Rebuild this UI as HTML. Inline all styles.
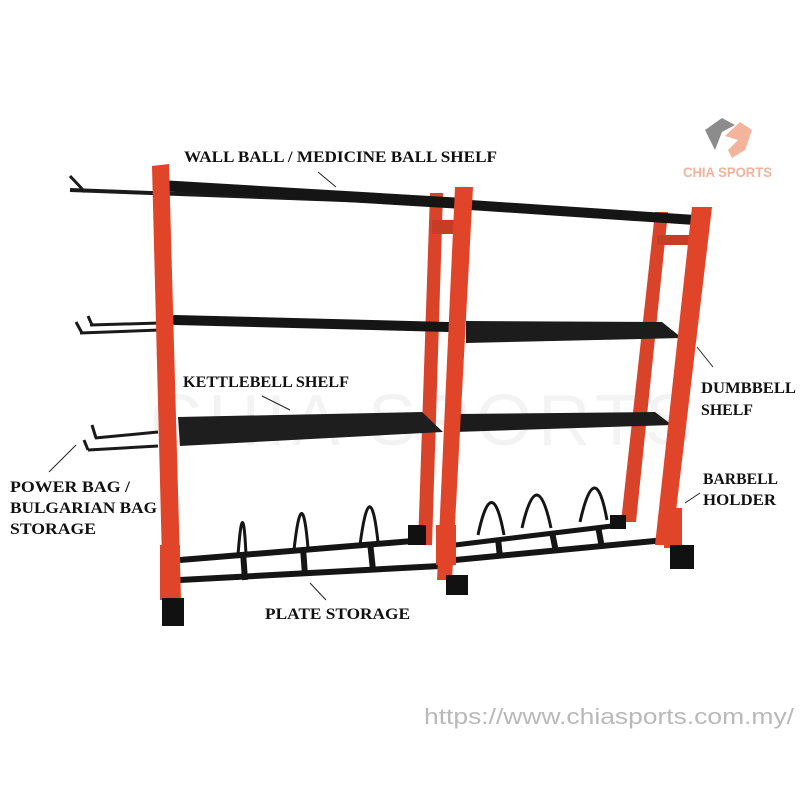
<!DOCTYPE html>
<html><head><meta charset="utf-8"><style>
html,body{margin:0;padding:0;background:#fff}
svg{display:block}
.l{font-family:"Liberation Serif",serif;font-size:16px;font-weight:bold;fill:#111}
</style></head><body>
<svg width="800" height="800" viewBox="0 0 800 800" xmlns="http://www.w3.org/2000/svg">
<rect width="800" height="800" fill="#fff"/>
<text x="150" y="445" font-family="Liberation Sans,sans-serif" font-size="72" fill="#000" opacity="0.045" letter-spacing="6">CHIA SPORTS</text>
<path d="M705 130 L722 118 L735 125 L722 132 L715 150 Z" fill="#8c8c8c"/>
<path d="M725 136 L740 122 L752 130 L745 150 L732 158 L728 150 L738 140 Z" fill="#f4b49c"/>
<text x="683" y="177" font-family="Liberation Sans,sans-serif" font-weight="bold" font-size="14" fill="#f2b39c" textLength="89" lengthAdjust="spacingAndGlyphs">CHIA SPORTS</text>

<polygon points="430,193 443,193 432,545 418,545" fill="#d8432a"/>
<polygon points="655,212 668,212 636,522 621,522" fill="#d8432a"/>
<rect x="432" y="220" width="24" height="14" fill="#c73c25"/>
<rect x="657" y="235" width="36" height="10" fill="#c73c25"/>

<line x1="70" y1="190" x2="455" y2="204" stroke="#1a1a1a" stroke-width="4"/>
<polyline points="70,176 85,192" fill="none" stroke="#1a1a1a" stroke-width="3"/>
<line x1="168" y1="186" x2="455" y2="203" stroke="#151515" stroke-width="11" stroke-linecap="round"/>
<line x1="470" y1="205" x2="695" y2="220" stroke="#151515" stroke-width="10" stroke-linecap="round"/>

<line x1="80" y1="333" x2="160" y2="330" stroke="#1a1a1a" stroke-width="3"/>
<line x1="90" y1="325" x2="160" y2="323" stroke="#1a1a1a" stroke-width="3"/>
<line x1="76" y1="322" x2="82" y2="333" stroke="#1a1a1a" stroke-width="3"/>
<line x1="88" y1="316" x2="92" y2="325" stroke="#1a1a1a" stroke-width="3"/>
<line x1="175" y1="320" x2="448" y2="327" stroke="#151515" stroke-width="10" stroke-linecap="round"/>
<polygon points="466,321 662,322 682,338 466,343" fill="#1c1c1c"/>

<line x1="95" y1="438" x2="158" y2="432" stroke="#1a1a1a" stroke-width="3"/>
<line x1="88" y1="450" x2="158" y2="446" stroke="#1a1a1a" stroke-width="3"/>
<line x1="92" y1="425" x2="96" y2="438" stroke="#1a1a1a" stroke-width="3"/>
<line x1="84" y1="440" x2="88" y2="450" stroke="#1a1a1a" stroke-width="3"/>
<polygon points="178,417 422,412 443,432 180,446" fill="#1e1e1e"/>
<polygon points="458,414 655,412 672,425 455,432" fill="#1c1c1c"/>

<line x1="180" y1="560" x2="425" y2="540" stroke="#151515" stroke-width="6"/>
<line x1="180" y1="580" x2="440" y2="566" stroke="#151515" stroke-width="6"/>
<line x1="455" y1="560" x2="665" y2="540" stroke="#151515" stroke-width="6"/>
<line x1="455" y1="545" x2="620" y2="525" stroke="#151515" stroke-width="5"/>
<g stroke="#151515" stroke-width="6">
<line x1="243" y1="552" x2="245" y2="580"/><line x1="303" y1="548" x2="305" y2="575"/><line x1="370" y1="542" x2="373" y2="570"/>
<line x1="498" y1="538" x2="500" y2="558"/><line x1="552" y1="532" x2="556" y2="552"/><line x1="598" y1="526" x2="602" y2="548"/>
</g>
<g fill="none" stroke="#151515" stroke-width="3">
<path d="M238 555 Q243 490 246 555"/><path d="M294 550 Q302 478 308 548"/><path d="M360 545 Q370 470 378 542"/>
<path d="M478 535 Q492 470 504 535"/><path d="M522 528 Q537 462 551 528"/><path d="M580 522 Q595 455 607 520"/>
</g>

<polygon points="152,166 169,164 181,600 163,600" fill="#e0452a"/>
<polygon points="455,187 473,187 452,580 437,580" fill="#e0452a"/>
<polygon points="692,207 712,207 672,545 655,545" fill="#e0452a"/>
<rect x="160" y="545" width="20" height="55" fill="#e0452a"/>
<rect x="436" y="525" width="20" height="40" fill="#e0452a"/>
<rect x="664" y="508" width="18" height="40" fill="#e0452a"/>
<rect x="162" y="598" width="22" height="28" fill="#111"/>
<rect x="446" y="575" width="22" height="20" fill="#111"/>
<rect x="670" y="545" width="24" height="24" fill="#111"/>
<rect x="408" y="525" width="18" height="20" fill="#111"/>
<rect x="610" y="515" width="16" height="14" fill="#111"/>

<g stroke="#222" stroke-width="1">
<line x1="318" y1="172" x2="336" y2="187"/>
<line x1="262" y1="396" x2="290" y2="410"/>
<line x1="49" y1="472" x2="76" y2="445"/>
<line x1="697" y1="347" x2="713" y2="367"/>
<line x1="685" y1="503" x2="700" y2="493"/>
<line x1="310" y1="583" x2="326" y2="600"/>
</g>

<text class="l" x="184" y="162" textLength="313" lengthAdjust="spacingAndGlyphs">WALL BALL / MEDICINE BALL SHELF</text>
<text class="l" x="183" y="387" textLength="166" lengthAdjust="spacingAndGlyphs">KETTLEBELL SHELF</text>
<text class="l" x="701" y="393" textLength="95" lengthAdjust="spacingAndGlyphs">DUMBBELL</text>
<text class="l" x="701" y="415" textLength="52" lengthAdjust="spacingAndGlyphs">SHELF</text>
<text class="l" x="10" y="492" textLength="120" lengthAdjust="spacingAndGlyphs">POWER BAG /</text>
<text class="l" x="10" y="513" textLength="147" lengthAdjust="spacingAndGlyphs">BULGARIAN BAG</text>
<text class="l" x="10" y="534" textLength="86" lengthAdjust="spacingAndGlyphs">STORAGE</text>
<text class="l" x="703" y="484" textLength="75" lengthAdjust="spacingAndGlyphs">BARBELL</text>
<text class="l" x="703" y="505" textLength="73" lengthAdjust="spacingAndGlyphs">HOLDER</text>
<text class="l" x="265" y="619" textLength="145" lengthAdjust="spacingAndGlyphs">PLATE STORAGE</text>
<text x="424" y="724" font-family="Liberation Sans,sans-serif" font-size="22" fill="#b9b9b9" textLength="370" lengthAdjust="spacingAndGlyphs">https://www.chiasports.com.my/</text>
</svg>
</body></html>
